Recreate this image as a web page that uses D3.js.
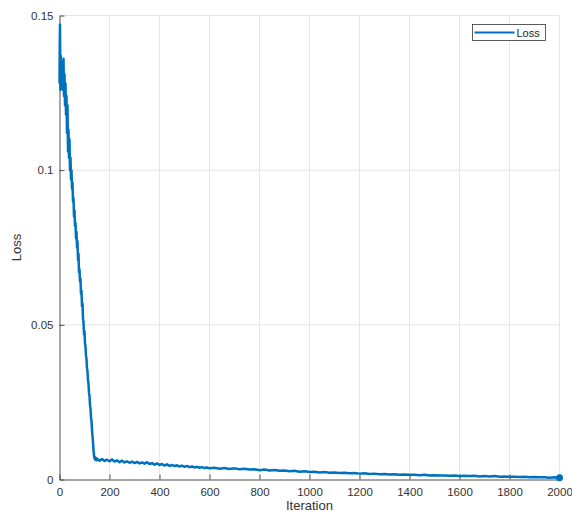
<!DOCTYPE html>
<html>
<head>
<meta charset="utf-8">
<script src="https://cdn.jsdelivr.net/npm/d3@7"></script>
<style>
  html, body { margin: 0; padding: 0; background: #fff; }
  text { font-family: "Liberation Sans", Arial, sans-serif; }
</style>
</head>
<body>
<div id="chart"></div>
<script>
const iterations = [
  0, 1, 2, 3, 4, 5, 6, 8, 10, 12, 14, 16, 18, 20, 22, 24, 26, 28, 30, 32, 34, 36, 38, 40,
  42, 44, 46, 48, 50, 52, 54, 56, 58, 60, 62, 64, 66, 68, 70, 72, 74, 76, 78, 80,
  82, 84, 86, 88, 90, 92, 94, 96, 98, 100, 102, 104, 106, 108, 110, 112, 114, 116, 118, 120,
  122, 124, 126, 128, 130, 132, 134, 136, 138, 140, 142, 144, 146, 148,
  150, 160, 170, 180, 190, 200, 210, 220, 230, 240, 250, 260, 270, 280, 290, 300,
  310, 320, 330, 340, 350, 360, 370, 380, 390, 400, 410, 420, 430, 440, 450, 460,
  470, 480, 490, 500, 510, 520, 530, 540, 550, 560, 570, 580, 590, 600,
  620, 640, 660, 680, 700, 720, 740, 760, 780, 800, 820, 840, 860, 880, 900, 920,
  940, 960, 980, 1000, 1020, 1040, 1060, 1080, 1100, 1120, 1140, 1160, 1180, 1200,
  1220, 1240, 1260, 1280, 1300, 1320, 1340, 1360, 1380, 1400, 1420, 1440, 1460, 1480,
  1500, 1520, 1540, 1560, 1580, 1600, 1620, 1640, 1660, 1680, 1700, 1720, 1740, 1760,
  1780, 1800, 1820, 1840, 1860, 1880, 1900, 1920, 1940, 1960, 1980, 2000
]

const lossValues = [
  0.128, 0.140, 0.147, 0.131, 0.126, 0.137, 0.129, 0.135, 0.128, 0.134, 0.126, 0.136, 0.124, 0.131, 0.121, 0.128, 0.118, 0.124, 0.112, 0.121, 0.106, 0.113, 0.104, 0.110,
  0.100, 0.104, 0.097, 0.100, 0.094, 0.096, 0.090, 0.091, 0.085, 0.087, 0.082, 0.083, 0.078, 0.080, 0.075, 0.077, 0.071, 0.073, 0.067, 0.068,
  0.064, 0.065, 0.060, 0.061, 0.056, 0.057, 0.052, 0.051, 0.047, 0.048, 0.044, 0.043, 0.040, 0.039, 0.036, 0.035, 0.032, 0.031, 0.028, 0.027,
  0.024, 0.023, 0.020, 0.019, 0.016, 0.014, 0.012, 0.0095, 0.0078, 0.0068, 0.0072, 0.0063, 0.0070, 0.0062,
  0.0067, 0.0061, 0.0066, 0.0060, 0.0064, 0.0059, 0.0065, 0.0058, 0.0062, 0.0056, 0.0061, 0.0055, 0.0059, 0.0054, 0.0058, 0.0053,
  0.0057, 0.0052, 0.0055, 0.0051, 0.0056, 0.0050, 0.0053, 0.0048, 0.0052, 0.0047, 0.0050, 0.0045, 0.0049, 0.0044, 0.0047, 0.0043,
  0.0046, 0.0042, 0.0045, 0.0041, 0.0044, 0.0040, 0.0042, 0.0039, 0.0041, 0.0038, 0.0040, 0.0037, 0.0039, 0.0036,
  0.0038, 0.0035, 0.0037, 0.0034, 0.0036, 0.0033, 0.0035, 0.0032, 0.0033, 0.0030, 0.0032, 0.0029, 0.0031, 0.0028, 0.0029, 0.0027,
  0.0028, 0.0025, 0.0027, 0.0024, 0.0025, 0.0023, 0.0024, 0.0022, 0.0023, 0.0021, 0.0022, 0.0020, 0.0021, 0.0019,
  0.0020, 0.0018, 0.0019, 0.0017, 0.0018, 0.0016, 0.0017, 0.0015, 0.0016, 0.0015, 0.0015, 0.0014, 0.0015, 0.0013,
  0.0014, 0.0013, 0.0013, 0.0012, 0.0013, 0.0011, 0.0012, 0.0011, 0.0012, 0.0010, 0.0011, 0.0010, 0.0011, 0.0009,
  0.0010, 0.0009, 0.0009, 0.0008, 0.0009, 0.0007, 0.0008, 0.0007, 0.0007, 0.0006, 0.0007, 0.0006
]

const xTicks = [0, 200, 400, 600, 800, 1000, 1200, 1400, 1600, 1800, 2000]
const yTicks = [0, 0.05, 0.1, 0.15]
const yTickLabels = ["0", "0.05", "0.1", "0.15"]
const seriesName = "Loss"

const data = iterations.map((it, i) => ({ it: it, loss: lossValues[i] }))

const W = 572, H = 514
const margin = { top: 15.5, right: 12.5, bottom: 34.5, left: 59.5 }
const width = W - margin.left - margin.right
const height = H - margin.top - margin.bottom

const lineColor = "#0072bd"
const axisColor = "#4d4d4d"
const gridColor = "#e6e6e6"

const svg = d3.select("#chart")
  .append("svg")
  .attr("width", W)
  .attr("height", H)

const g = svg.append("g").attr("transform", `translate(${margin.left},${margin.top})`)

const x = d3.scaleLinear().domain([0, 2000]).range([0, width])
const y = d3.scaleLinear().domain([0, 0.15]).range([height, 0])

// grid
g.append("g")
  .attr("class", "grid-x")
  .selectAll("line")
  .data(xTicks.slice(1))
  .enter()
  .append("line")
  .attr("x1", (d) => x(d))
  .attr("x2", (d) => x(d))
  .attr("y1", 0)
  .attr("y2", height)
  .attr("stroke", gridColor)
  .attr("stroke-width", 1)

g.append("g")
  .attr("class", "grid-y")
  .selectAll("line")
  .data(yTicks.slice(1))
  .enter()
  .append("line")
  .attr("x1", 0)
  .attr("x2", width)
  .attr("y1", (d) => y(d))
  .attr("y2", (d) => y(d))
  .attr("stroke", gridColor)
  .attr("stroke-width", 1)

// axes, MATLAB style inward ticks
const xAxis = g.append("g")
  .attr("transform", `translate(0,${height})`)
  .call(d3.axisBottom(x).tickValues(xTicks).tickSizeInner(-5).tickSizeOuter(0).tickPadding(8).tickFormat(d3.format("d")))

const yAxis = g.append("g")
  .call(d3.axisLeft(y).tickValues(yTicks).tickSizeInner(-5).tickSizeOuter(0).tickPadding(6)
    .tickFormat((d, i) => yTickLabels[i]))

;[xAxis, yAxis].forEach((a) => {
  a.select(".domain").attr("stroke", axisColor)
  a.selectAll(".tick line").attr("stroke", axisColor)
  a.selectAll(".tick text")
    .attr("fill", "#333")
    .attr("font-size", "11.5px")
    .style("font-family", "'Liberation Sans', Arial, sans-serif")
})

// labels
svg.append("text")
  .attr("x", margin.left + width / 2)
  .attr("y", 510)
  .attr("text-anchor", "middle")
  .attr("font-size", "13px")
  .attr("fill", "#333")
  .text("Iteration")

svg.append("text")
  .attr("transform", `translate(21,${margin.top + height / 2}) rotate(-90)`)
  .attr("text-anchor", "middle")
  .attr("font-size", "13px")
  .attr("fill", "#333")
  .text("Loss")

// series
const line = d3.line()
  .x((d) => x(d.it))
  .y((d) => y(d.loss))

g.append("path")
  .datum(data)
  .attr("fill", "none")
  .attr("stroke", lineColor)
  .attr("stroke-width", 2.5)
  .attr("stroke-linejoin", "round")
  .attr("d", line)

const last = data[data.length - 1]
g.append("circle")
  .attr("cx", x(last.it))
  .attr("cy", y(last.loss))
  .attr("r", 3.5)
  .attr("fill", lineColor)

// legend
const legend = svg.append("g").attr("transform", "translate(472.5,24.5)")
legend.append("rect")
  .attr("width", 73)
  .attr("height", 16)
  .attr("fill", "#fff")
  .attr("stroke", "#333")
  .attr("stroke-width", 0.8)
legend.append("line")
  .attr("x1", 2)
  .attr("x2", 42)
  .attr("y1", 8)
  .attr("y2", 8)
  .attr("stroke", lineColor)
  .attr("stroke-width", 2)
legend.append("text")
  .attr("x", 44)
  .attr("y", 12)
  .attr("font-size", "11px")
  .attr("fill", "#222")
  .text(seriesName)
</script>
</body>
</html>
